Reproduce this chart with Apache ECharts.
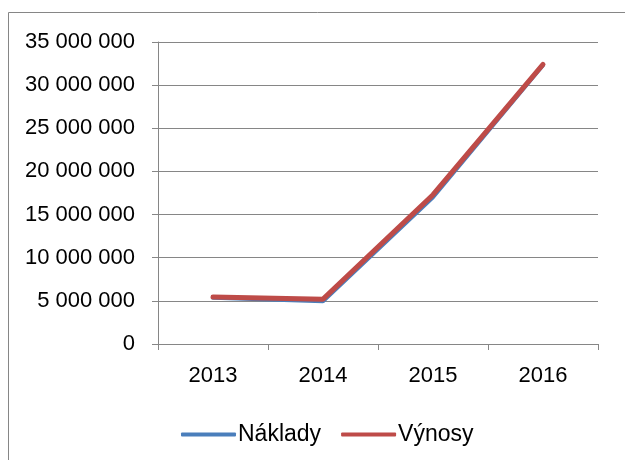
<!DOCTYPE html>
<html>
<head>
<meta charset="utf-8">
<script src="https://cdn.jsdelivr.net/npm/echarts@6/dist/echarts.min.js"></script>
<style>
  html, body { margin: 0; padding: 0; background: #fff; }
  #chart { width: 625px; height: 460px; }
</style>
</head>
<body>
<div id="chart"></div>
<script>
var years = ['2013', '2014', '2015', '2016'];
var naklady = [5350000, 4950000, 17000000, 32300000];
var vynosy = [5450000, 5200000, 17300000, 32400000];
var seriesNames = ['Náklady', 'Výnosy'];

var font = '"Liberation Sans", Arial, sans-serif';

function fmt(v) {
	return String(v).replace(/\B(?=(\d{3})+(?!\d))/g, ' ');
}

var chart = echarts.init(document.getElementById('chart'));
chart.setOption({
	animation: false,
	backgroundColor: '#ffffff',
	graphic: [{
		type: 'rect',
		shape: { x: 8.5, y: 12.5, width: 700, height: 600 },
		style: { fill: 'none', stroke: '#868686', lineWidth: 1 },
		silent: true
	}],
	grid: { left: 158, right: 27, top: 42, bottom: 116 },
	legend: {
		data: seriesNames,
		top: 418,
		left: 176,
		itemWidth: 55,
		itemHeight: 4,
		itemGap: 20,
		icon: 'roundRect',
		textStyle: { fontFamily: font, fontSize: 23, color: '#000', padding: [0, 0, 0, -3] }
	},
	xAxis: {
		type: 'category',
		data: years,
		boundaryGap: true,
		axisLine: { lineStyle: { color: '#868686', width: 1 } },
		axisTick: { show: true, length: 6, interval: 0, lineStyle: { color: '#868686' } },
		axisLabel: { fontFamily: font, fontSize: 22, color: '#000', margin: 21 }
	},
	yAxis: {
		type: 'value',
		min: 0,
		max: 35000000,
		interval: 5000000,
		axisLine: { show: true, lineStyle: { color: '#868686', width: 1 } },
		axisTick: { show: true, length: 6, lineStyle: { color: '#868686' } },
		splitLine: { show: true, lineStyle: { color: '#868686', width: 1 } },
		axisLabel: { fontFamily: font, fontSize: 22, color: '#000', margin: 23, formatter: fmt }
	},
	series: [
		{
			name: seriesNames[0],
			type: 'line',
			data: naklady,
			symbol: 'none',
			color: '#4a7ebb',
			lineStyle: { color: '#4a7ebb', width: 4, cap: 'round' }
		},
		{
			name: seriesNames[1],
			type: 'line',
			data: vynosy,
			symbol: 'none',
			color: '#be4b48',
			lineStyle: { color: '#be4b48', width: 5, cap: 'round' }
		}
	]
});
</script>
</body>
</html>
